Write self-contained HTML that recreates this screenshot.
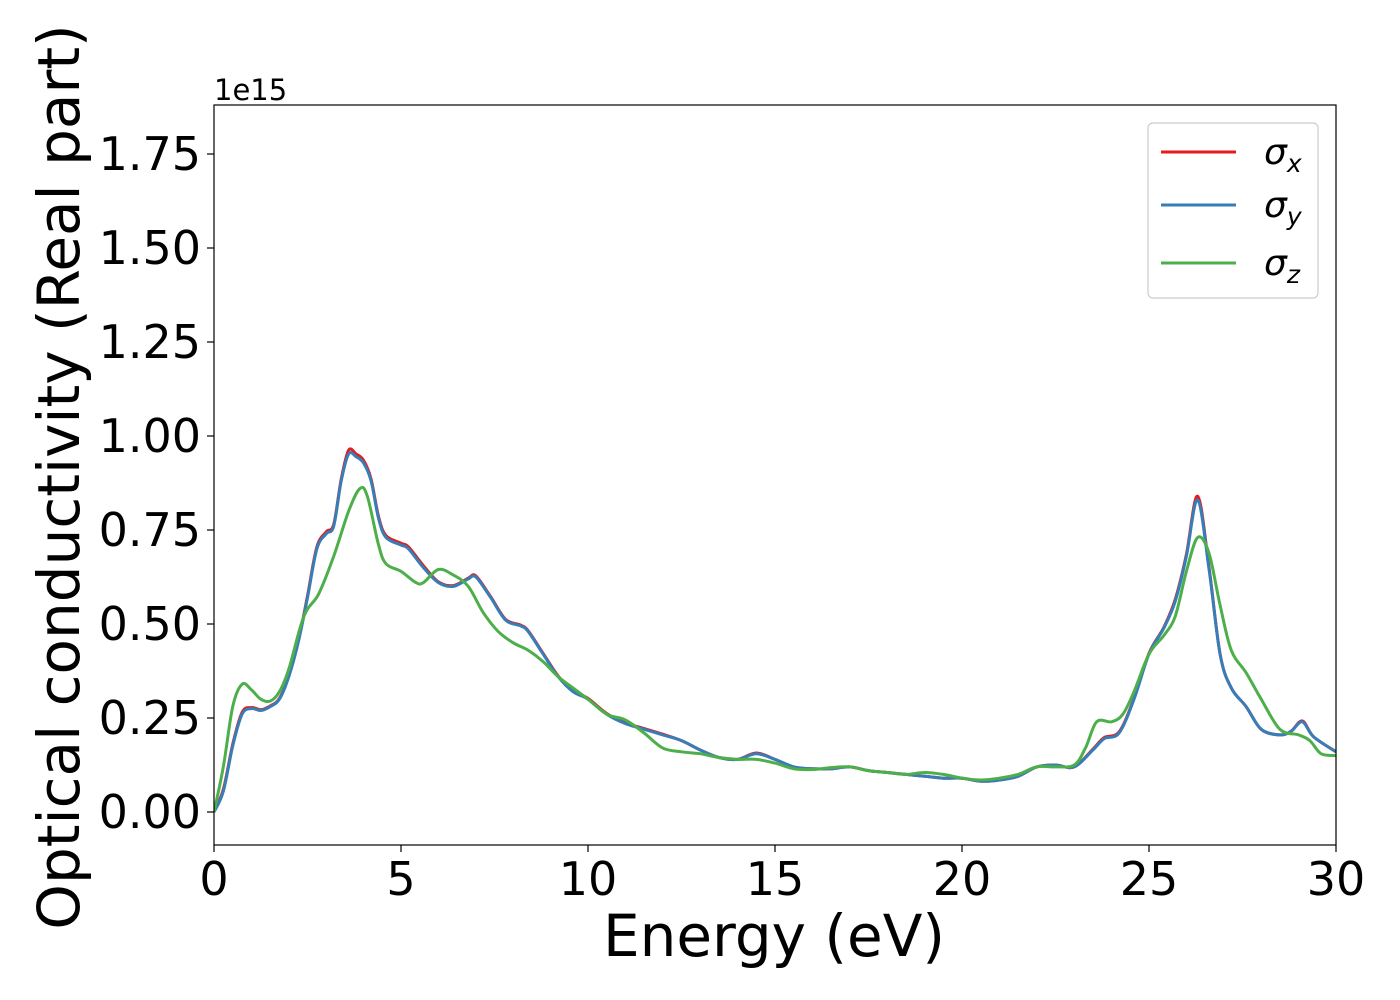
<!DOCTYPE html>
<html><head><meta charset="utf-8"><style>
html,body{margin:0;padding:0;background:#fff;}
svg{display:block;font-family:"DejaVu Sans","Liberation Sans",sans-serif;}
</style></head><body>
<svg id="chart" width="1400" height="1000" viewBox="0 0 1400 1000" xmlns="http://www.w3.org/2000/svg">
<g id="plot"></g>
<g id="axes"></g>
<text x="214" y="100" font-size="29">1e15</text>
<text x="774" y="956" font-size="58" text-anchor="middle">Energy (eV)</text>
<text transform="translate(79,477) rotate(-90)" font-size="58" text-anchor="middle">Optical conductivity (Real part)</text>
<g>
<rect x="1148" y="123" width="170" height="175" rx="5" fill="#fff" fill-opacity="0.8" stroke="#ccc" stroke-width="1.2"/>
<g><line x1="1161" y1="152" x2="1236" y2="152" stroke="#e41a1c" stroke-width="3"/><text x="1264" y="164" font-size="36" font-style="italic">σ<tspan font-size="25" dy="8">x</tspan></text></g>
<g><line x1="1161" y1="205" x2="1236" y2="205" stroke="#377eb8" stroke-width="3"/><text x="1264" y="217" font-size="36" font-style="italic">σ<tspan font-size="25" dy="8">y</tspan></text></g>
<g><line x1="1161" y1="263" x2="1236" y2="263" stroke="#4daf4a" stroke-width="3"/><text x="1264" y="275" font-size="36" font-style="italic">σ<tspan font-size="25" dy="8">z</tspan></text></g>
</g>
</svg>
<script>
const energyXY = [0,0.25,0.5,0.75,1.0,1.25,1.5,1.75,2.0,2.25,2.5,2.75,3.0,3.2,3.4,3.6,3.8,4.0,4.2,4.4,4.6,5.0,5.2,5.6,6.0,6.4,6.8,7.0,7.4,7.8,8.2,8.4,8.8,9.2,9.6,10,10.5,11,11.5,12,12.5,13,13.5,14,14.5,15,15.5,16,16.5,17,17.5,18,18.5,19,19.5,20,20.5,21,21.5,22,22.5,23,23.5,23.8,24.2,24.6,25,25.4,25.7,26,26.3,26.6,26.9,27.2,27.6,28,28.5,28.8,29.1,29.4,30];
const sigmaX = [0,0.06,0.18,0.265,0.278,0.272,0.282,0.302,0.362,0.452,0.575,0.705,0.745,0.765,0.885,0.962,0.952,0.935,0.885,0.785,0.735,0.715,0.705,0.655,0.612,0.602,0.622,0.628,0.572,0.512,0.497,0.482,0.422,0.362,0.322,0.302,0.262,0.237,0.222,0.207,0.19,0.165,0.145,0.14,0.157,0.14,0.12,0.115,0.115,0.12,0.11,0.105,0.1,0.095,0.09,0.09,0.082,0.085,0.095,0.12,0.125,0.12,0.167,0.198,0.213,0.302,0.422,0.492,0.565,0.685,0.84,0.655,0.42,0.33,0.28,0.22,0.205,0.215,0.242,0.2,0.16];
const sigmaY = [0,0.055,0.175,0.26,0.275,0.27,0.28,0.3,0.36,0.45,0.57,0.7,0.74,0.76,0.88,0.952,0.945,0.928,0.88,0.78,0.73,0.71,0.7,0.65,0.61,0.6,0.62,0.625,0.57,0.51,0.495,0.48,0.42,0.36,0.32,0.3,0.26,0.235,0.22,0.205,0.19,0.165,0.145,0.14,0.155,0.14,0.12,0.115,0.115,0.12,0.11,0.105,0.1,0.095,0.09,0.09,0.082,0.085,0.095,0.12,0.125,0.12,0.165,0.195,0.21,0.3,0.42,0.49,0.56,0.68,0.83,0.65,0.42,0.33,0.28,0.22,0.205,0.215,0.24,0.2,0.16];
const energyZ = [0,0.25,0.5,0.75,1.0,1.25,1.5,1.75,2.0,2.4,2.8,3.2,3.6,3.9,4.1,4.4,4.6,5.0,5.4,5.6,6.0,6.4,6.8,7.2,7.6,8.0,8.4,8.8,9.2,9.6,10,10.5,11,11.5,12,12.5,13,13.5,14,14.5,15,15.5,16,16.5,17,17.5,18,18.5,19,19.5,20,20.5,21,21.5,22,22.5,23,23.3,23.6,24,24.3,24.6,25,25.4,25.7,26,26.3,26.6,26.9,27.2,27.6,28,28.5,29,29.3,29.6,30];
const sigmaZ = [0,0.12,0.28,0.34,0.325,0.3,0.295,0.32,0.38,0.52,0.58,0.68,0.8,0.86,0.84,0.71,0.66,0.64,0.61,0.61,0.645,0.63,0.6,0.53,0.48,0.45,0.43,0.4,0.36,0.33,0.3,0.26,0.245,0.21,0.17,0.16,0.155,0.145,0.14,0.14,0.13,0.115,0.113,0.118,0.12,0.11,0.105,0.1,0.105,0.1,0.09,0.085,0.09,0.1,0.12,0.12,0.125,0.17,0.24,0.24,0.26,0.32,0.42,0.47,0.52,0.64,0.73,0.69,0.55,0.43,0.37,0.3,0.22,0.205,0.19,0.155,0.15];
const xTicks = [0,5,10,15,20,25,30];
const yTicks = [0,0.25,0.5,0.75,1.0,1.25,1.5,1.75];
const yTickLabels = ["0.00","0.25","0.50","0.75","1.00","1.25","1.50","1.75"];

const X0=214, X1=1336, Y0=105, Y1=845;
const sx = e => X0 + (e-0)/(30-0)*(X1-X0);
const sy = v => 812 - v*376;
const NS="http://www.w3.org/2000/svg";
function pathFor(xs, ys){
  const p = xs.map((x,i)=>[sx(x), sy(ys[i])]);
  let d = "M"+p[0][0].toFixed(1)+","+p[0][1].toFixed(1);
  for(let i=0;i<p.length-1;i++){
    const a=p[Math.max(i-1,0)], b=p[i], c=p[i+1], e=p[Math.min(i+2,p.length-1)];
    const c1x=b[0]+(c[0]-a[0])/6, c1y=b[1]+(c[1]-a[1])/6;
    const c2x=c[0]-(e[0]-b[0])/6, c2y=c[1]-(e[1]-b[1])/6;
    d+=" C"+c1x.toFixed(1)+","+c1y.toFixed(1)+" "+c2x.toFixed(1)+","+c2y.toFixed(1)+" "+c[0].toFixed(1)+","+c[1].toFixed(1);
  }
  return d;
}
const plot=document.getElementById('plot');
const clip=document.createElementNS(NS,'clipPath'); clip.setAttribute('id','cp');
const cr=document.createElementNS(NS,'rect'); cr.setAttribute('x',X0); cr.setAttribute('y',Y0); cr.setAttribute('width',X1-X0); cr.setAttribute('height',Y1-Y0);
clip.appendChild(cr); plot.appendChild(clip);
const series=[[energyXY,sigmaX,'#e41a1c','series-sigma-x'],[energyXY,sigmaY,'#377eb8','series-sigma-y'],[energyZ,sigmaZ,'#4daf4a','series-sigma-z']];
series.forEach(s=>{
  const el=document.createElementNS(NS,'path');
  el.setAttribute('d',pathFor(s[0],s[1]));
  el.setAttribute('fill','none'); el.setAttribute('stroke',s[2]); el.setAttribute('stroke-width','3');
  el.setAttribute('clip-path','url(#cp)');
  
  
  plot.appendChild(el);
});
const axes=document.getElementById('axes');
const frame=document.createElementNS(NS,'rect');
frame.setAttribute('x',X0); frame.setAttribute('y',Y0); frame.setAttribute('width',X1-X0); frame.setAttribute('height',Y1-Y0);
frame.setAttribute('fill','none'); frame.setAttribute('stroke','#000'); frame.setAttribute('stroke-width','1.2');


axes.appendChild(frame);
xTicks.forEach(t=>{
  const l=document.createElementNS(NS,'line');
  l.setAttribute('x1',sx(t)); l.setAttribute('x2',sx(t)); l.setAttribute('y1',Y1); l.setAttribute('y2',Y1+7); l.setAttribute('stroke','#000'); l.setAttribute('stroke-width','1.2');
  
  
  axes.appendChild(l);
  const tx=document.createElementNS(NS,'text');
  tx.setAttribute('x',sx(t)); tx.setAttribute('y',895); tx.setAttribute('font-size','46'); tx.setAttribute('text-anchor','middle');
  tx.textContent=String(t);
  
  
  axes.appendChild(tx);
});
yTicks.forEach((t,i)=>{
  const l=document.createElementNS(NS,'line');
  l.setAttribute('x1',X0-7); l.setAttribute('x2',X0); l.setAttribute('y1',sy(t)); l.setAttribute('y2',sy(t)); l.setAttribute('stroke','#000'); l.setAttribute('stroke-width','1.2');
  
  
  axes.appendChild(l);
  const tx=document.createElementNS(NS,'text');
  tx.setAttribute('x',201); tx.setAttribute('y',sy(t)+16); tx.setAttribute('font-size','46'); tx.setAttribute('text-anchor','end');
  tx.textContent=yTickLabels[i];
  
  
  axes.appendChild(tx);
});
</script>
</body></html>
